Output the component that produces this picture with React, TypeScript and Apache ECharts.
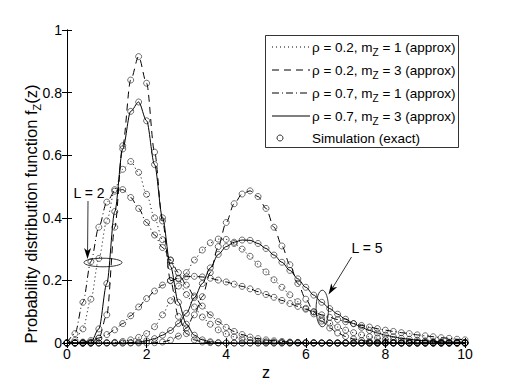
import React, { useEffect, useRef } from "react";
import * as echarts from "echarts";

// sample points of z
const zGrid = [0, 0.2, 0.4, 0.6, 0.8, 1, 1.2, 1.4, 1.6, 1.8, 2, 2.2, 2.4, 2.6, 2.8, 3, 3.2, 3.4, 3.6, 3.8, 4, 4.2, 4.4, 4.6, 4.8, 5, 5.2, 5.4, 5.6, 5.8, 6, 6.2, 6.4, 6.6, 6.8, 7, 7.2, 7.4, 7.6, 7.8, 8, 8.2, 8.4, 8.6, 8.8, 9, 9.2, 9.4, 9.6, 9.8, 10];

// L = 2
const l2Rho02M1 = [
  0, 0.008, 0.045, 0.14, 0.27, 0.39, 0.49, 0.555, 0.58, 0.545,
  0.475, 0.4, 0.33, 0.265, 0.205, 0.155, 0.115, 0.083, 0.06, 0.042,
  0.029, 0.02, 0.013, 0.009, 0.006, 0.004, 0.003, 0.002, 0.001, 0.001,
  0, 0, 0, 0, 0, 0, 0, 0, 0, 0,
  0, 0, 0, 0, 0, 0, 0, 0, 0, 0,
  0,
];
const l2Rho02M3 = [
  0, 0, 0, 0, 0.015, 0.09, 0.37, 0.63, 0.84, 0.915,
  0.83, 0.61, 0.39, 0.2, 0.085, 0.03, 0.01, 0.003, 0.001, 0,
  0, 0, 0, 0, 0, 0, 0, 0, 0, 0,
  0, 0, 0, 0, 0, 0, 0, 0, 0, 0,
  0, 0, 0, 0, 0, 0, 0, 0, 0, 0,
  0,
];
const l2Rho07M1 = [
  0, 0.03, 0.13, 0.26, 0.37, 0.45, 0.485, 0.49, 0.465, 0.43,
  0.385, 0.345, 0.305, 0.265, 0.225, 0.185, 0.15, 0.118, 0.09, 0.068,
  0.05, 0.037, 0.027, 0.019, 0.014, 0.01, 0.007, 0.005, 0.003, 0.002,
  0.001, 0.001, 0, 0, 0, 0, 0, 0, 0, 0,
  0, 0, 0, 0, 0, 0, 0, 0, 0, 0,
  0,
];
const l2Rho07M3 = [
  0, 0, 0, 0.003, 0.045, 0.19, 0.42, 0.62, 0.74, 0.77,
  0.71, 0.57, 0.4, 0.245, 0.13, 0.06, 0.025, 0.01, 0.004, 0.001,
  0, 0, 0, 0, 0, 0, 0, 0, 0, 0,
  0, 0, 0, 0, 0, 0, 0, 0, 0, 0,
  0, 0, 0, 0, 0, 0, 0, 0, 0, 0,
  0,
];

// L = 5
const l5Rho02M1 = [
  0, 0, 0, 0, 0, 0.001, 0.002, 0.005, 0.01, 0.018,
  0.03, 0.052, 0.09, 0.135, 0.182, 0.225, 0.265, 0.297, 0.32, 0.332,
  0.331, 0.318, 0.3, 0.277, 0.252, 0.227, 0.202, 0.178, 0.154, 0.132,
  0.111, 0.093, 0.077, 0.063, 0.051, 0.041, 0.033, 0.026, 0.02, 0.016,
  0.012, 0.009, 0.007, 0.005, 0.004, 0.003, 0.002, 0.002, 0.001, 0.001,
  0.001,
];
const l5Rho02M3 = [
  0, 0, 0, 0, 0, 0, 0, 0, 0, 0,
  0, 0.001, 0.003, 0.009, 0.022, 0.048, 0.09, 0.148, 0.225, 0.308,
  0.385, 0.445, 0.476, 0.486, 0.468, 0.43, 0.37, 0.31, 0.25, 0.19,
  0.14, 0.1, 0.07, 0.048, 0.032, 0.021, 0.013, 0.008, 0.005, 0.003,
  0.002, 0.001, 0, 0, 0, 0, 0, 0, 0, 0,
  0,
];
const l5Rho07M1 = [
  0, 0.001, 0.003, 0.008, 0.016, 0.027, 0.042, 0.062, 0.087, 0.115,
  0.142, 0.166, 0.185, 0.199, 0.207, 0.212, 0.213, 0.211, 0.207, 0.201,
  0.195, 0.188, 0.181, 0.173, 0.164, 0.155, 0.146, 0.136, 0.126, 0.117,
  0.108, 0.099, 0.09, 0.082, 0.075, 0.068, 0.062, 0.056, 0.051, 0.046,
  0.041, 0.037, 0.033, 0.03, 0.026, 0.023, 0.02, 0.017, 0.015, 0.012,
  0.01,
];
const l5Rho07M3 = [
  0, 0, 0, 0, 0, 0, 0, 0, 0.001, 0.003,
  0.007, 0.014, 0.025, 0.04, 0.062, 0.095, 0.145, 0.19, 0.24, 0.283,
  0.308, 0.322, 0.329, 0.328, 0.318, 0.302, 0.281, 0.258, 0.232, 0.205,
  0.178, 0.153, 0.13, 0.11, 0.092, 0.076, 0.062, 0.05, 0.04, 0.032,
  0.025, 0.02, 0.015, 0.012, 0.009, 0.007, 0.005, 0.004, 0.003, 0.002,
  0.002,
];

const xTicks = [0, 2, 4, 6, 8, 10];
const yTicks = [0, 0.2, 0.4, 0.6, 0.8, 1];

const legendRho = ["0.2", "0.2", "0.7", "0.7"];
const legendM = ["1", "3", "1", "3"];

const FONT = "'Liberation Sans', Arial, Helvetica, sans-serif";

const DOTTED = [1, 3];
const DASHED = [7, 5];
const DASHDOT = [7, 3, 1, 3];
const styles = [DOTTED, DASHED, DASHDOT, "solid"];

function arrow(x1: number, y1: number, x2: number, y2: number) {
  const dx = x2 - x1, dy = y2 - y1;
  const len = Math.hypot(dx, dy);
  const ux = dx / len, uy = dy / len;
  const nx = -uy, ny = ux;
  const hl = 11, hw = 3.5, notch = 8;
  const bx = x2 - hl * ux, by = y2 - hl * uy;
  const mx = x2 - notch * ux, my = y2 - notch * uy;
  return [
    { type: "line", shape: { x1, y1, x2: mx, y2: my }, style: { stroke: "#000", lineWidth: 0.8 } },
    {
      type: "polygon",
      shape: { points: [[x2, y2], [bx + hw * nx, by + hw * ny], [mx, my], [bx - hw * nx, by - hw * ny]] },
      style: { fill: "#000" },
    },
  ];
}

export default function App() {
  const ref = useRef<HTMLDivElement>(null);
  useEffect(() => {
    if (!ref.current) return;
    const chart = echarts.init(ref.current, null, { renderer: "svg" });
    const curves = [
      { data: l2Rho02M1, t: styles[0] },
      { data: l2Rho02M3, t: styles[1] },
      { data: l2Rho07M1, t: styles[2] },
      { data: l2Rho07M3, t: styles[3] },
      { data: l5Rho02M1, t: styles[0] },
      { data: l5Rho02M3, t: styles[1] },
      { data: l5Rho07M1, t: styles[2] },
      { data: l5Rho07M3, t: styles[3] },
    ];
    const lineSeries = curves.map((c) => ({
      type: "line",
      data: zGrid.map((z, i) => [z, c.data[i]]),
      symbol: "none",
      smooth: 0.3,
      smoothMonotone: "x",
      lineStyle: { color: "#000", width: 1, type: c.t as any },
      z: 2,
    }));
    const simData: number[][] = [];
    curves.forEach((c) => zGrid.forEach((z, i) => simData.push([z, c.data[i]])));

    const legendRows = [47, 70, 93, 116];
    const legendEls: any[] = [
      {
        type: "rect",
        shape: { x: 265.5, y: 35.5, width: 193, height: 112 },
        style: { fill: "#fff", stroke: "#000", lineWidth: 0.8 },
      },
    ];
    legendRows.forEach((y, i) => {
      legendEls.push({
        type: "line",
        shape: { x1: 272, y1: y, x2: 310, y2: y },
        style: { stroke: "#000", lineWidth: 1, lineDash: styles[i] === "solid" ? null : styles[i] },
      });
      legendEls.push({
        type: "text",
        x: 312,
        y: y,
        style: {
          text: `{t|ρ = ${legendRho[i]}, m}{s|Z}{t| = ${legendM[i]} (approx)}`,
          verticalAlign: "middle",
          align: "left",
          rich: {
            t: { fontSize: 13.5, fontFamily: FONT, fill: "#000" },
            s: { fontSize: 10, fontFamily: FONT, fill: "#000", padding: [11, 0, 0, 0] },
          },
        },
      });
    });
    legendEls.push({
      type: "circle",
      shape: { cx: 280, cy: 138, r: 3 },
      style: { fill: "none", stroke: "#000", lineWidth: 0.8 },
    });
    legendEls.push({
      type: "text",
      x: 312,
      y: 138,
      style: { text: "Simulation (exact)", fontSize: 13.5, fontFamily: FONT, fill: "#000", verticalAlign: "middle" },
    });

    const axisCommon = {
      type: "value",
      axisLine: { show: true, lineStyle: { color: "#000", width: 1 } },
      axisTick: { show: true, inside: true, length: 5, lineStyle: { color: "#000" } },
      splitLine: { show: false },
    };

    chart.setOption({
      animation: false,
      backgroundColor: "#fff",
      grid: { left: 67, right: 47, top: 30, bottom: 42 },
      xAxis: [
        {
          ...axisCommon,
          min: 0, max: 10, interval: 2, position: "bottom",
          axisLabel: { color: "#000", fontSize: 14, fontFamily: FONT, margin: 4,
            formatter: (v: number) => (xTicks.includes(v) ? String(v) : "") },
        },
        { ...axisCommon, min: 0, max: 10, interval: 2, position: "top", axisLabel: { show: false } },
      ],
      yAxis: [
        {
          ...axisCommon,
          min: 0, max: 1, interval: 0.2, position: "left",
          axisLabel: { color: "#000", fontSize: 14, fontFamily: FONT, margin: 5,
            formatter: (v: number) => {
              const t = yTicks.find((k) => Math.abs(k - v) < 1e-9);
              return t === undefined ? "" : String(t);
            } },
        },
        { ...axisCommon, min: 0, max: 1, interval: 0.2, position: "right", axisLabel: { show: false } },
      ],
      series: [
        ...lineSeries,
        {
          type: "scatter",
          data: simData,
          symbol: "circle",
          symbolSize: 6,
          clip: false,
          itemStyle: { color: "rgba(0,0,0,0)", borderColor: "#000", borderWidth: 0.7 },
          z: 3,
        },
      ],
      graphic: [
        ...legendEls,
        {
          type: "text",
          x: 31,
          y: 214,
          rotation: Math.PI / 2,
          style: {
            text: "{t|Probability distribution function f}{s|Z}{t|(z)}",
            align: "center",
            verticalAlign: "middle",
            rich: {
              t: { fontSize: 16.5, fontFamily: FONT, fill: "#000" },
              s: { fontSize: 11, fontFamily: FONT, fill: "#000", padding: [12, 0, 0, 0] },
            },
          },
        },
        {
          type: "text",
          x: 266,
          y: 372,
          style: { text: "z", fontSize: 16, fontFamily: FONT, fill: "#000", align: "center", verticalAlign: "middle" },
        },
        {
          type: "text",
          x: 89,
          y: 193,
          style: { text: "L = 2", fontSize: 14, fontFamily: FONT, fill: "#000", align: "center", verticalAlign: "middle" },
        },
        ...arrow(88, 201, 87.5, 259),
        {
          type: "ellipse",
          shape: { cx: 103, cy: 262.5, rx: 19, ry: 4.3 },
          style: { fill: "none", stroke: "#000", lineWidth: 0.8 },
        },
        {
          type: "text",
          x: 367,
          y: 248,
          style: { text: "L = 5", fontSize: 14, fontFamily: FONT, fill: "#000", align: "center", verticalAlign: "middle" },
        },
        ...arrow(351.5, 257, 328.5, 294.5),
        {
          type: "ellipse",
          shape: { cx: 322.3, cy: 308.5, rx: 6.2, ry: 18.3 },
          style: { fill: "none", stroke: "#000", lineWidth: 0.8 },
        },
      ],
    });
    return () => chart.dispose();
  }, []);
  return (
    <div
      ref={ref}
      style={{ position: "fixed", left: 0, top: 0, width: 512, height: 385, background: "#fff" }}
    />
  );
}
